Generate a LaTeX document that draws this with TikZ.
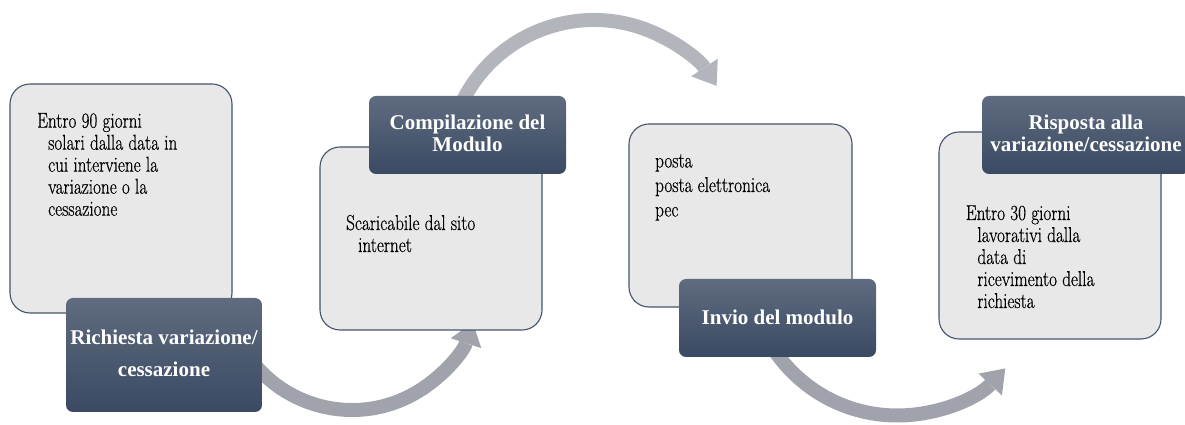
\documentclass[tikz,border=0pt]{standalone}
\usepackage{fontspec}
\setmainfont{Latin Modern Roman}[FakeBold=0.5, FakeStretch=0.80]
\newfontfamily\headfont{Liberation Serif}
\usetikzlibrary{arrows.meta}
\definecolor{lightfill}{HTML}{E8E8E8}
\definecolor{lightedge}{HTML}{44546A}
\definecolor{darktop}{HTML}{5F6B7F}
\definecolor{darkbot}{HTML}{3A4A63}
\definecolor{arrowlow}{HTML}{A0A3AC}
\definecolor{arrowtop}{HTML}{B2B5BC}
\newcommand\boxlines[2]{\begin{tabular}[t]{@{}#1@{}}#2\end{tabular}}
\begin{document}
\begin{tikzpicture}[x=1pt,y=1pt,
  lightbox/.style={draw=lightedge, line width=1.1pt, fill=lightfill, rounded corners=20pt, inner sep=0pt, outer sep=0pt},
  darkbox/.style={rounded corners=7pt, top color=darktop, bottom color=darkbot, draw=none, inner sep=0pt, outer sep=0pt},
  bodytext/.style={font=\fontsize{21.5}{22}\selectfont, text=black, inner sep=0pt, anchor=base west},
  headtext/.style={font=\headfont\fontsize{21}{22}\selectfont\bfseries, text=white, inner sep=0pt, anchor=base},
  flowlow/.style={draw=arrowlow, line width=14pt, -{Triangle[width=32pt,length=22pt,line width=0pt]}},
  flowtop/.style={draw=arrowtop, line width=14pt, -{Triangle[width=32pt,length=22pt,line width=0pt]}}
]
\useasboundingbox (0,0) rectangle (1185,425);

% arc centres
\coordinate (c1) at (352,142);
\coordinate (c2) at (594,258);
\coordinate (c3) at (897,157.5);

% curved arrows (behind the boxes)
\draw[flowlow] ([shift={(-150:127)}]c1) arc[start angle=-150, end angle=-18, radius=127];
\draw[flowtop] ([shift={(160:147)}]c2) arc[start angle=160, end angle=33.5, radius=147];
\draw[flowlow] ([shift={(-150:148)}]c3) arc[start angle=-150, end angle=-43, radius=148];

% light boxes
\node[lightbox, minimum width=222pt, minimum height=229pt] (b1) at (121,226.5) {};
\node[lightbox, minimum width=222pt, minimum height=183pt] (b2) at (431,186.5) {};
\node[lightbox, minimum width=223pt, minimum height=183pt] (b3) at (740.5,209.5) {};
\node[lightbox, minimum width=222pt, minimum height=207pt] (b4) at (1050,189.5) {};

% dark boxes
\node[darkbox, minimum width=196pt, minimum height=114pt] (d1) at (164,70) {};
\node[darkbox, minimum width=197pt, minimum height=78pt] (d2) at (467.5,290) {};
\node[darkbox, minimum width=197pt, minimum height=78pt] (d3) at (777.5,107) {};
\node[darkbox, minimum width=208pt, minimum height=78pt] (d4) at (1086,290) {};

% body texts
\node[bodytext] (t1) at (37,297.3) {\boxlines{l}{Entro 90 giorni\\\hspace*{11pt}solari dalla data in\\\hspace*{11pt}cui interviene la\\\hspace*{11pt}variazione o la\\\hspace*{11pt}cessazione}};
\node[bodytext] (t2) at (346,195) {\boxlines{l}{Scaricabile dal sito\\\hspace*{12pt}internet}};
\node[bodytext] (t3) at (655,257.5) {\boxlines{l}{posta\\[2.5pt]posta elettronica\\[2.5pt]pec}};
\node[bodytext] (t4) at (965.7,205) {\boxlines{l}{Entro 30 giorni\\\hspace*{11.5pt}lavorativi dalla\\\hspace*{11.5pt}data di\\\hspace*{11.5pt}ricevimento della\\\hspace*{11.5pt}richiesta}};

% heading texts
\node[headtext] (h1) at (164,80) {\boxlines{c}{Richiesta variazione/\\[10pt]cessazione}};
\node[headtext] (h2) at (467.5,295) {\boxlines{c}{Compilazione del\\Modulo}};
\node[headtext] (h3) at (777.5,100) {\boxlines{c}{Invio del modulo}};
\node[headtext] (h4) at (1086,295) {\boxlines{c}{Risposta alla\\variazione/cessazione}};
\end{tikzpicture}
\end{document}
